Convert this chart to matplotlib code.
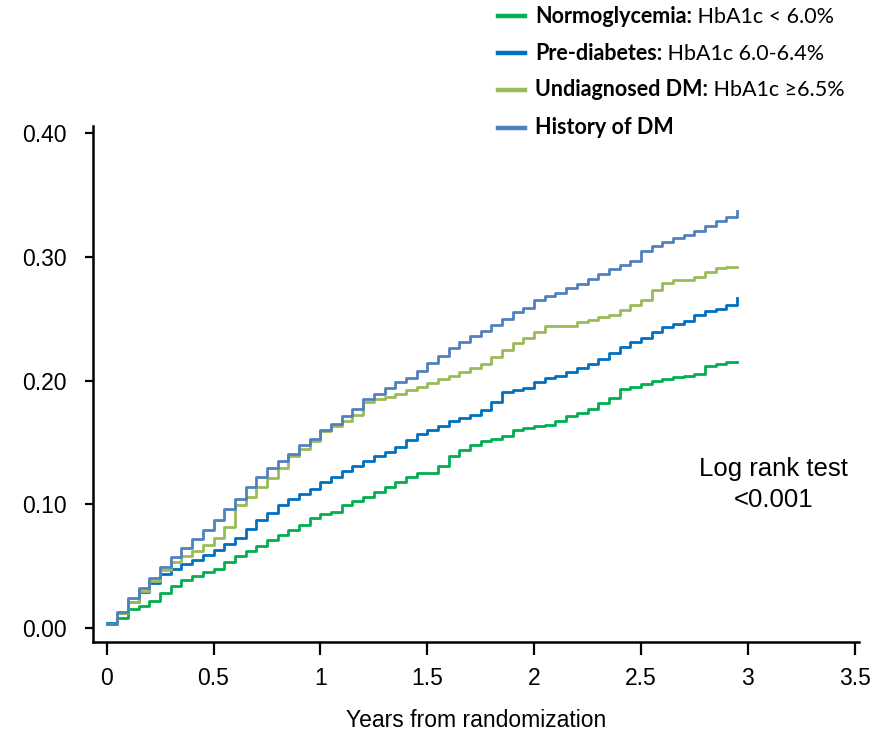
import numpy as np
import matplotlib.pyplot as plt
from matplotlib.lines import Line2D

plt.rcParams['font.family'] = ['Liberation Sans', 'DejaVu Sans']

# follow-up time grid (years) and cumulative incidence
years = np.round(np.arange(0, 3.0, 0.05), 2)

normo = [0.003, 0.008, 0.015, 0.018, 0.022, 0.028, 0.034, 0.039, 0.042, 0.045,
         0.048, 0.053, 0.058, 0.062, 0.066, 0.071, 0.075, 0.079, 0.083, 0.089,
         0.092, 0.094, 0.099, 0.103, 0.106, 0.110, 0.114, 0.118, 0.122, 0.125,
         0.125, 0.131, 0.139, 0.144, 0.148, 0.151, 0.153, 0.155, 0.160, 0.162,
         0.163, 0.164, 0.167, 0.171, 0.174, 0.177, 0.182, 0.186, 0.193, 0.195,
         0.197, 0.200, 0.201, 0.203, 0.204, 0.205, 0.212, 0.213, 0.215, 0.215]

prediab = [0.004, 0.012, 0.021, 0.029, 0.036, 0.044, 0.048, 0.052, 0.055, 0.059,
           0.063, 0.068, 0.073, 0.080, 0.087, 0.093, 0.099, 0.104, 0.108, 0.112,
           0.118, 0.122, 0.127, 0.131, 0.135, 0.139, 0.142, 0.146, 0.152, 0.157,
           0.160, 0.163, 0.167, 0.170, 0.172, 0.176, 0.183, 0.191, 0.192, 0.194,
           0.199, 0.202, 0.204, 0.207, 0.210, 0.213, 0.217, 0.222, 0.227, 0.231,
           0.234, 0.239, 0.243, 0.246, 0.248, 0.253, 0.256, 0.258, 0.261, 0.267]

undiag = [0.003, 0.012, 0.021, 0.030, 0.038, 0.047, 0.053, 0.058, 0.062, 0.067,
          0.073, 0.082, 0.099, 0.106, 0.114, 0.121, 0.129, 0.139, 0.145, 0.151,
          0.159, 0.163, 0.167, 0.172, 0.183, 0.185, 0.187, 0.189, 0.192, 0.195,
          0.198, 0.201, 0.204, 0.207, 0.210, 0.213, 0.219, 0.225, 0.230, 0.234,
          0.239, 0.244, 0.244, 0.244, 0.247, 0.249, 0.251, 0.253, 0.257, 0.261,
          0.265, 0.273, 0.279, 0.281, 0.281, 0.284, 0.288, 0.291, 0.292, 0.292]

history = [0.003, 0.013, 0.024, 0.032, 0.040, 0.049, 0.057, 0.065, 0.072, 0.079,
           0.087, 0.096, 0.104, 0.114, 0.122, 0.129, 0.135, 0.141, 0.148, 0.153,
           0.160, 0.165, 0.171, 0.177, 0.185, 0.189, 0.194, 0.199, 0.202, 0.208,
           0.214, 0.220, 0.226, 0.231, 0.236, 0.240, 0.245, 0.250, 0.255, 0.259,
           0.265, 0.268, 0.271, 0.275, 0.278, 0.282, 0.286, 0.290, 0.293, 0.297,
           0.305, 0.309, 0.312, 0.315, 0.318, 0.321, 0.325, 0.329, 0.332, 0.337]

groups = [
    ("Normoglycemia:", " HbA1c < 6.0%", normo, "#00B050"),
    ("Pre-diabetes:", " HbA1c 6.0-6.4%", prediab, "#0070C0"),
    ("Undiagnosed DM:", " HbA1c \u22656.5%", undiag, "#9BBB59"),
    ("History of DM", "", history, "#4F81BD"),
]

fig = plt.figure(figsize=(8.83, 7.37), dpi=100)
ax = fig.add_axes([0.1053, 0.1293, 0.8675, 0.6997])

for bold, rest, vals, col in groups:
    ax.plot(years, vals, drawstyle="steps-post", color=col, lw=2.0)

ax.set_xlim(-0.064, 3.52)
ax.set_ylim(-0.0111, 0.4057)
ax.set_xticks([0, 0.5, 1, 1.5, 2, 2.5, 3, 3.5])
ax.set_xticklabels(["0", "0.5", "1", "1.5", "2", "2.5", "3", "3.5"])
ax.set_yticks([0, 0.1, 0.2, 0.3, 0.4])
ax.set_yticklabels(["0.00", "0.10", "0.20", "0.30", "0.40"])

for s in ["top", "right"]:
    ax.spines[s].set_visible(False)
for s in ["left", "bottom"]:
    ax.spines[s].set_linewidth(1.8)
ax.tick_params(axis="x", length=9, width=1.6, pad=9, labelsize=16.5)
ax.tick_params(axis="y", length=6, width=1.6, pad=13, labelsize=16.5)

ax.set_xlabel("Years from randomization", fontsize=16.5, labelpad=14)

ax.text(3.12, 0.116, "Log rank test\n<0.001", ha="center", va="center",
        fontsize=18.5, linespacing=1.35)

# legend drawn by hand: bold group name followed by regular text
leg_font = ["Lato", "DejaVu Sans"]
row_y = [0.978, 0.928, 0.878, 0.827]
for (bold, rest, vals, col), y in zip(groups, row_y):
    fig.add_artist(Line2D([0.564, 0.594], [y, y], color=col, lw=3.2))
    t = fig.text(0.606, y, bold, fontsize=15.5, fontweight="bold",
                 va="center", family=leg_font)
    if rest:
        ax.annotate(rest, xy=(1, 0), xycoords=t, va="bottom", ha="left",
                    fontsize=15.5, family=leg_font, annotation_clip=False)

fig.savefig("out.png", dpi=100)
